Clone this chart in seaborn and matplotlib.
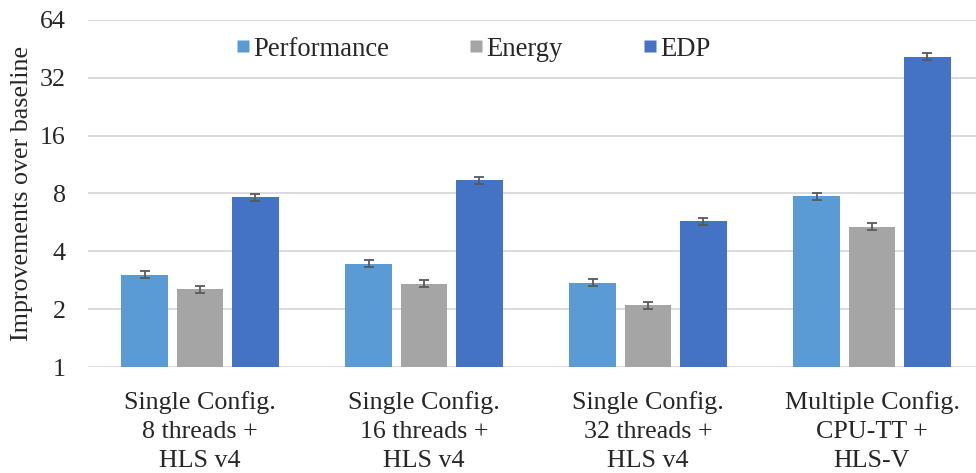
import matplotlib
matplotlib.use("Agg")
import matplotlib.pyplot as plt
import seaborn as sns
import pandas as pd
import numpy as np
from matplotlib.lines import Line2D

categories = ["Single Config.\n8 threads +\nHLS v4",
              "Single Config.\n16 threads +\nHLS v4",
              "Single Config.\n32 threads +\nHLS v4",
              "Multiple Config.\nCPU-TT +\nHLS-V"]
series = ["Performance", "Energy", "EDP"]
performance = [3.03, 3.45, 2.75, 7.72]
energy = [2.54, 2.72, 2.10, 5.37]
edp = [7.65, 9.35, 5.74, 41.3]
performance_err = [0.13, 0.15, 0.12, 0.33]
energy_err = [0.11, 0.12, 0.09, 0.23]
edp_err = [0.33, 0.40, 0.25, 1.80]
y_ticks = [1, 2, 4, 8, 16, 32, 64]
colors = ["#5B9BD5", "#A5A5A5", "#4472C4"]

sns.set_style("white")
plt.rcParams["font.family"] = ["Liberation Serif", "DejaVu Serif"]
FS = 18.7

df = pd.DataFrame({
    "category": categories * 3,
    "series": [s for s in series for _ in categories],
    "value": performance + energy + edp,
    "err": performance_err + energy_err + edp_err,
})

fig = plt.figure(figsize=(9.76, 4.73), dpi=100)
ax = fig.add_axes([88 / 976, 1 - 367 / 473, 896 / 976, (367 - 20) / 473])

sns.barplot(data=df, x="category", y="value", hue="series", palette=colors,
            saturation=1, order=categories, hue_order=series, width=0.743, gap=0.16,
            errorbar=None, ax=ax, legend=False, edgecolor="none", zorder=3)
ax.set_yscale("log", base=2)
ax.set_ylim(1, 64)
ax.set_yticks(y_ticks)
ax.set_yticklabels([str(t) for t in y_ticks], fontsize=FS)
ax.minorticks_off()

# error bars at bar centers
for container, s in zip(ax.containers, series):
    sub = df[df.series == s]
    xs = [p.get_x() + p.get_width() / 2 for p in container.patches]
    ax.errorbar(xs, sub["value"].values, yerr=sub["err"].values, fmt="none",
                ecolor="#595959", elinewidth=1.3, capsize=3.5, capthick=1.3, zorder=4)

ax.set_xlim(-0.5, len(categories) - 0.5)
ax.set_xticks(range(len(categories)))
ax.set_xticklabels(categories, fontsize=FS, linespacing=1.42)
ax.set_xlabel("")
ax.set_ylabel("Improvements over baseline", fontsize=FS, labelpad=5)
ax.tick_params(axis="both", length=0)
ax.tick_params(axis="x", pad=17)
ax.tick_params(axis="y", pad=16)
ax.grid(axis="y", color="#D9D9D9", linewidth=1.3, zorder=0)
ax.set_axisbelow(True)
for sp in ax.spines.values():
    sp.set_visible(False)

handles = [Line2D([0], [0], marker="s", linestyle="none", markersize=9,
                  markerfacecolor=c, markeredgecolor="none") for c in colors]
fig.legend(handles, series, loc="center", bbox_to_anchor=(473.5 / 976, 1 - 49 / 473),
           ncol=3, frameon=False, fontsize=19.2, handlelength=0.5, handletextpad=0.15,
           columnspacing=3.0)

fig.savefig("out.png", dpi=100)
